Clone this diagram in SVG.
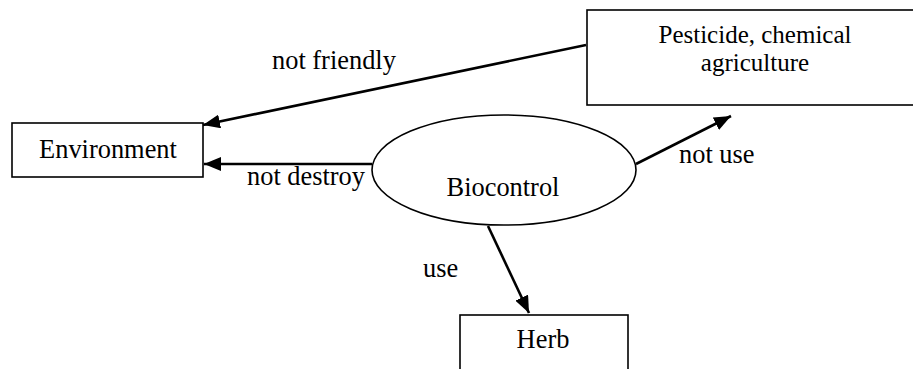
<svg xmlns="http://www.w3.org/2000/svg" width="913" height="369" viewBox="0 0 913 369">
  <style>
    .box { fill: #fff; stroke: #000; stroke-width: 1.6; }
    .edge { fill: none; stroke: #000; stroke-width: 2.6; marker-end: url(#arrow); }
    text { font-family: "Liberation Serif", "Times New Roman", "DejaVu Serif", serif; font-size: 26.4px; fill: #000; }
    .c { text-anchor: middle; }
    .two { font-size: 25px; }
  </style>
  <defs>
    <marker id="arrow" markerUnits="userSpaceOnUse" markerWidth="18" markerHeight="14" refX="17" refY="7" orient="auto">
      <path d="M0,0 L17,7 L0,14 Z" fill="#000"/>
    </marker>
  </defs>
  <rect width="913" height="369" fill="#fff"/>

  <g id="node-environment">
    <rect class="box" x="12" y="123" width="191" height="54"/>
    <text class="c" x="108" y="158">Environment</text>
  </g>

  <g id="node-pesticide">
    <rect class="box" x="587" y="10" width="340" height="95"/>
    <text class="c two" x="755" y="43">Pesticide, chemical</text>
    <text class="c two" x="755" y="71">agriculture</text>
  </g>

  <g id="node-biocontrol">
    <ellipse class="box" cx="504" cy="170" rx="132" ry="55"/>
    <text class="c" x="503" y="196">Biocontrol</text>
  </g>

  <g id="node-herb">
    <rect class="box" x="460" y="315" width="168" height="70"/>
    <text class="c" x="543" y="348">Herb</text>
  </g>

  <g id="connectors">
    <line class="edge" x1="586" y1="45" x2="203" y2="125"/>
    <line class="edge" x1="372" y1="164" x2="204" y2="164"/>
    <line class="edge" x1="636" y1="164" x2="731" y2="116"/>
    <line class="edge" x1="488" y1="226" x2="529" y2="313"/>
    <text x="272" y="69">not friendly</text>
    <text x="247" y="185">not destroy</text>
    <text x="679" y="163">not use</text>
    <text x="423" y="277">use</text>
  </g>
</svg>
